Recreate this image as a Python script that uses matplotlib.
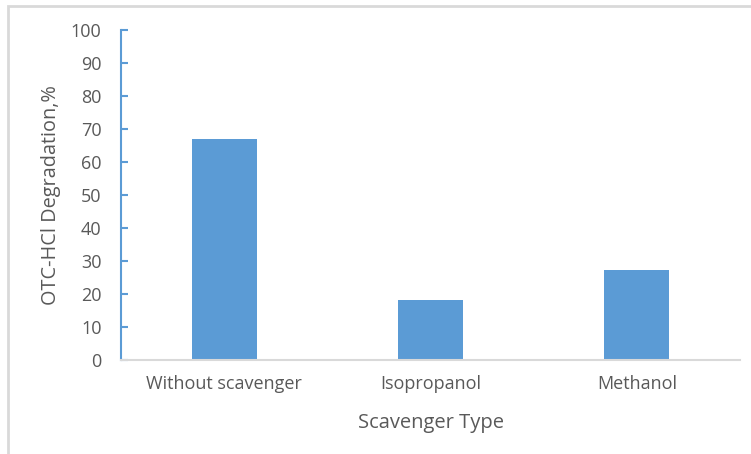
import matplotlib.pyplot as plt
from matplotlib.patches import Rectangle

# OTC-HCl degradation for each scavenger
categories = ['Without scavenger', 'Isopropanol', 'Methanol']
degradation = [67.0, 18.2, 27.4]
y_ticks = list(range(0, 101, 10))

bar_color = '#5B9BD5'
text_color = '#595959'

plt.rcParams['font.family'] = ['Open Sans', 'DejaVu Sans']

fig = plt.figure(figsize=(7.51, 4.54), dpi=100)
ax = fig.add_axes([0.1611, 0.2070, 0.8243, 0.7269])

x = list(range(len(categories)))
ax.bar(x, degradation, width=0.315, color=bar_color, zorder=2)

ax.set_xlim(-0.5, len(categories) - 0.5)
ax.set_ylim(0, 100)
ax.set_yticks(y_ticks)
ax.set_xticks(x)
ax.set_xticklabels(categories)

# axis styling
for side in ['top', 'right']:
    ax.spines[side].set_visible(False)
ax.spines['left'].set_color(bar_color)
ax.spines['left'].set_linewidth(1.5)
ax.spines['bottom'].set_color('#D9D9D9')
ax.spines['bottom'].set_linewidth(1.5)

ax.tick_params(axis='y', direction='in', length=5, width=1.5, color=bar_color,
               labelcolor=text_color, labelsize=13, pad=14)
ax.tick_params(axis='x', length=0, labelcolor=text_color, labelsize=13, pad=10.5)

ax.set_xlabel('Scavenger Type', fontsize=14.5, color=text_color, labelpad=15)
ax.set_ylabel('OTC-HCl Degradation,%', fontsize=14.3, color=text_color, labelpad=7)

# light frame around the chart area
frame = Rectangle((8 / 751, -0.1), 1.1, (454 - 6.5) / 454 + 0.1,
                  transform=fig.transFigure, fill=False,
                  edgecolor='#D9D9D9', linewidth=2, clip_on=False)
fig.patches.append(frame)

fig.savefig('out.png', dpi=100)
